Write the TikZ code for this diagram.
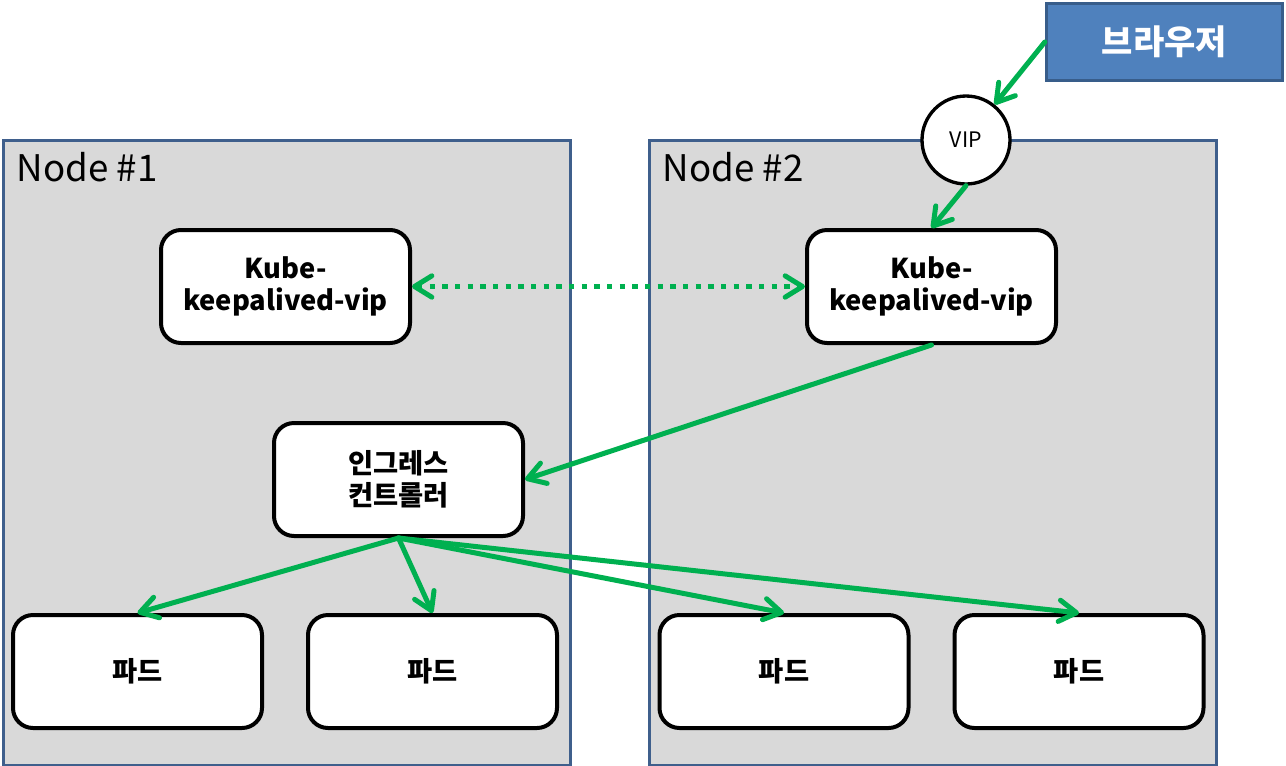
\documentclass[tikz,border=0pt]{standalone}
\usepackage{fontspec}
\setmainfont{Noto Sans CJK KR}
\usetikzlibrary{arrows.meta}
\definecolor{grn}{HTML}{00B050}
\definecolor{hostfill}{HTML}{D9D9D9}
\definecolor{hostline}{HTML}{3F5F8C}
\definecolor{brfill}{HTML}{4F81BD}
\definecolor{brline}{HTML}{385D8A}
\tikzset{
  host/.style={draw=hostline, fill=hostfill, line width=2.6pt, inner sep=0pt},
  box/.style={draw=black, fill=white, line width=3pt, rounded corners=15pt,
    minimum width=186.75pt, minimum height=84.75pt, align=center, inner sep=0pt,
    font=\fontsize{20.5}{24}\selectfont\bfseries},
  tipv/.tip={Straight Barb[length=13pt,width=16pt,line cap=round,line join=round]},
  flow/.style={draw=grn, line width=3.75pt, line cap=round, -tipv},
  sync/.style={draw=grn, line width=3.75pt, dash pattern=on 4pt off 5.5pt, tipv-tipv},
}
\begin{document}
\begin{tikzpicture}[x=0.75pt,y=-0.75pt]
\useasboundingbox (0,0) rectangle (1286,765);
% hosts
\node[host, minimum width=425.25pt, minimum height=468.75pt, anchor=north west] (host1) at (1.75,139) {};
\node[host, minimum width=425.25pt, minimum height=468.75pt, anchor=north west] (host2) at (648,139) {};
\node[anchor=west, font=\fontsize{27.5}{32}\selectfont] (lbl1) at (12,167) {Node \#1};
\node[anchor=west, font=\fontsize{27.5}{32}\selectfont] (lbl2) at (658,167) {Node \#2};
% browser
\node[draw=brline, fill=brfill, line width=2.5pt, minimum width=177pt, minimum height=58pt,
  text=white, font=\fontsize{25.5}{30}\selectfont\bfseries, inner sep=0pt] (browser) at (1164.5,42) {브라우저};
% VIP
\node[circle, draw=black, fill=white, line width=2.5pt, minimum size=66pt, inner sep=0pt,
  font=\fontsize{16}{19}\selectfont] (vip) at (966,140) {VIP};
% boxes
\node[box] (kube1) at (285.5,286.5) {Kube-\\keepalived-vip};
\node[box] (kube2) at (931.5,286.5) {Kube-\\keepalived-vip};
\node[box] (ingress) at (398.5,479.5) {인그레스\\컨트롤러};
\node[box] (pod1) at (137.5,671.5) {파드};
\node[box] (pod2) at (432.5,671.5) {파드};
\node[box] (pod3) at (784,671.5) {파드};
\node[box] (pod4) at (1079,671.5) {파드};
% connectors
\draw[flow] (browser.west) -- (vip);
\draw[flow] (vip.south) -- (kube2.north);
\draw[sync] (kube1) -- (kube2);
\draw[flow] (kube2.south) -- (ingress.east);
\draw[flow] (ingress.south) -- (pod1.north);
\draw[flow] (ingress.south) -- (pod2.north);
\draw[flow] (ingress.south) -- (pod3.north);
\draw[flow] (ingress.south) -- (pod4.north);
\end{tikzpicture}
\end{document}
